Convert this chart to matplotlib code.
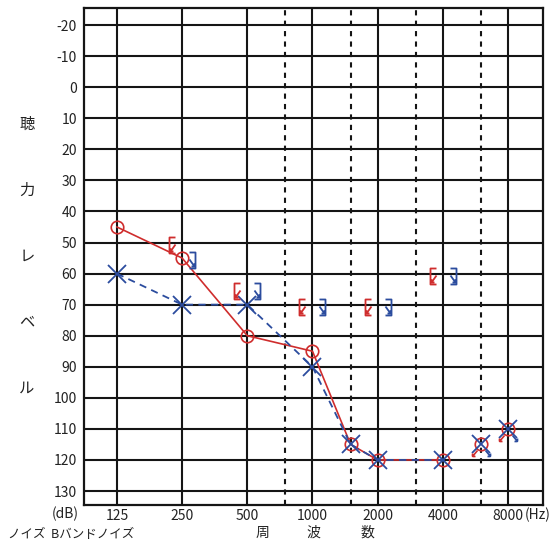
import numpy as np
import matplotlib
matplotlib.use("Agg")
import matplotlib.pyplot as plt
from matplotlib.path import Path

plt.rcParams['font.family'] = ['Noto Sans CJK JP', 'DejaVu Sans']

# audiogram data (dB HL)
freqs = [125, 250, 500, 1000, 1500, 2000, 4000, 6000, 8000]
right_air = [45, 55, 80, 85, 115, 120, 120, 115, 110]
left_air = [60, 70, 70, 90, 115, 120, 120, 115, 110]
n_linked = 7   # points joined by lines, the rest are scale-out

bone_freqs = [250, 500, 1000, 2000, 4000]
right_bone = [50, 65, 70, 70, 60]
left_bone = [55, 65, 70, 70, 60]

octave_freqs = [125, 250, 500, 1000, 2000, 4000, 8000]
half_freqs = [750, 1500, 3000, 6000]
db_ticks = list(range(-20, 131, 10))
ylab_chars = ['聴', '力', 'レ', 'ベ', 'ル']

RED = '#cf2d2d'
BLUE = '#2b4c9e'
W, H = 553, 542

fig = plt.figure(figsize=(W / 100, H / 100), dpi=100)
ax = fig.add_axes([84 / W, 1 - 505 / H, (543 - 84) / W, (505 - 8) / H])
ax.set_xscale('log', base=2)
ax.set_xlim(125 * 2 ** -0.505, 8000 * 2 ** 0.536)
ax.set_ylim(134.5, -25.5)

# grid
for f in octave_freqs:
    ax.axvline(f, color='#151515', lw=1.5, zorder=1)
for f in half_freqs:
    ax.axvline(f, color='#151515', lw=1.5, ls=(0, (2.5, 2.5)), zorder=1)
for d in db_ticks:
    ax.axhline(d, color='#151515', lw=1.5, zorder=1)
for s in ax.spines.values():
    s.set_linewidth(1.6)
    s.set_color('#151515')

ax.set_xticks(octave_freqs)
ax.set_xticklabels([str(f) for f in octave_freqs])
ax.set_xticks([], minor=True)
ax.set_yticks(db_ticks)
ax.set_yticklabels([str(d) for d in db_ticks])
ax.tick_params(length=0, labelsize=10, colors='#222222')
ax.tick_params(axis='x', pad=3)
ax.tick_params(axis='y', pad=5)


def px_marker(verts, codes):
    # vertices in pixels -> marker path + markersize in points
    m = max(abs(v) for p in verts for v in p)
    return Path(verts, codes), 2 * m * 0.72


M, L = Path.MOVETO, Path.LINETO
# masked bone "[" with no-response arrow (right ear), mirrored for left
lb_verts = [(-7, 6), (-13, 6), (-13, -10), (-7, -10),
            (-7, -1), (-12, -8), (-12, -8), (-12, -5), (-12, -8), (-9, -8)]
lb_codes = [M, L, L, L, M, L, M, L, M, L]
rb_verts = [(-x, y) for x, y in lb_verts]
lbr, lbr_size = px_marker(lb_verts, lb_codes)
rbr, rbr_size = px_marker(rb_verts, lb_codes)

# scale-out arrows for air conduction
so_l = [(-4, -6), (-9, -12), (-9, -12), (-9, -9), (-9, -12), (-6, -12), (12, 12)]
so_codes = [M, L, M, L, M, L, M]
so_r = [(-x, y) for x, y in so_l[:-1]] + [(12, 12)]
sol, sol_size = px_marker(so_l, so_codes)
sor, sor_size = px_marker(so_r, so_codes)

# air conduction
ax.plot(freqs[:n_linked], right_air[:n_linked], color=RED, lw=1.2, zorder=3)
ax.plot(freqs[:n_linked], left_air[:n_linked], color=BLUE, lw=1.3,
        ls=(0, (4, 3)), zorder=3)
ax.plot(freqs, right_air, ls='none', marker='o', ms=9, mfc='none',
        mec=RED, mew=1.2, zorder=4)
ax.plot(freqs, left_air, ls='none', marker='x', ms=13, mec=BLUE,
        mew=1.3, zorder=4)
ax.plot(freqs[n_linked:], right_air[n_linked:], ls='none', marker=sol,
        ms=sol_size, mec=RED, mew=1.2, zorder=4)
ax.plot(freqs[n_linked:], left_air[n_linked:], ls='none', marker=sor,
        ms=sor_size, mec=BLUE, mew=1.2, zorder=4)

# masked bone conduction
ax.plot(bone_freqs, right_bone, ls='none', marker=lbr, ms=lbr_size,
        mec=RED, mfc='none', mew=1.3, zorder=4)
ax.plot(bone_freqs, left_bone, ls='none', marker=rbr, ms=rbr_size,
        mec=BLUE, mfc='none', mew=1.3, zorder=4)

# labels
for i, ch in enumerate(ylab_chars):
    fig.text(27 / W, 1 - (124 + 66 * i) / H, ch, fontsize=11,
             ha='center', va='center', color='#222222')
fig.text(65 / W, 1 - 514 / H, '(dB)', fontsize=10, ha='center',
         va='center', color='#222222')
fig.text(538 / W, 1 - 515 / H, '(Hz)', fontsize=10, ha='center',
         va='center', color='#222222')
for x, ch in zip([262, 313, 367], ['周', '波', '数']):
    fig.text(x / W, 1 - 533 / H, ch, fontsize=10, ha='center',
             va='center', color='#222222')
fig.text(8 / W, 1 - 541 / H, 'ノイズ  Bバンドノイズ', fontsize=9,
         ha='left', va='bottom', color='#222222')

fig.savefig('out.png', dpi=100)
